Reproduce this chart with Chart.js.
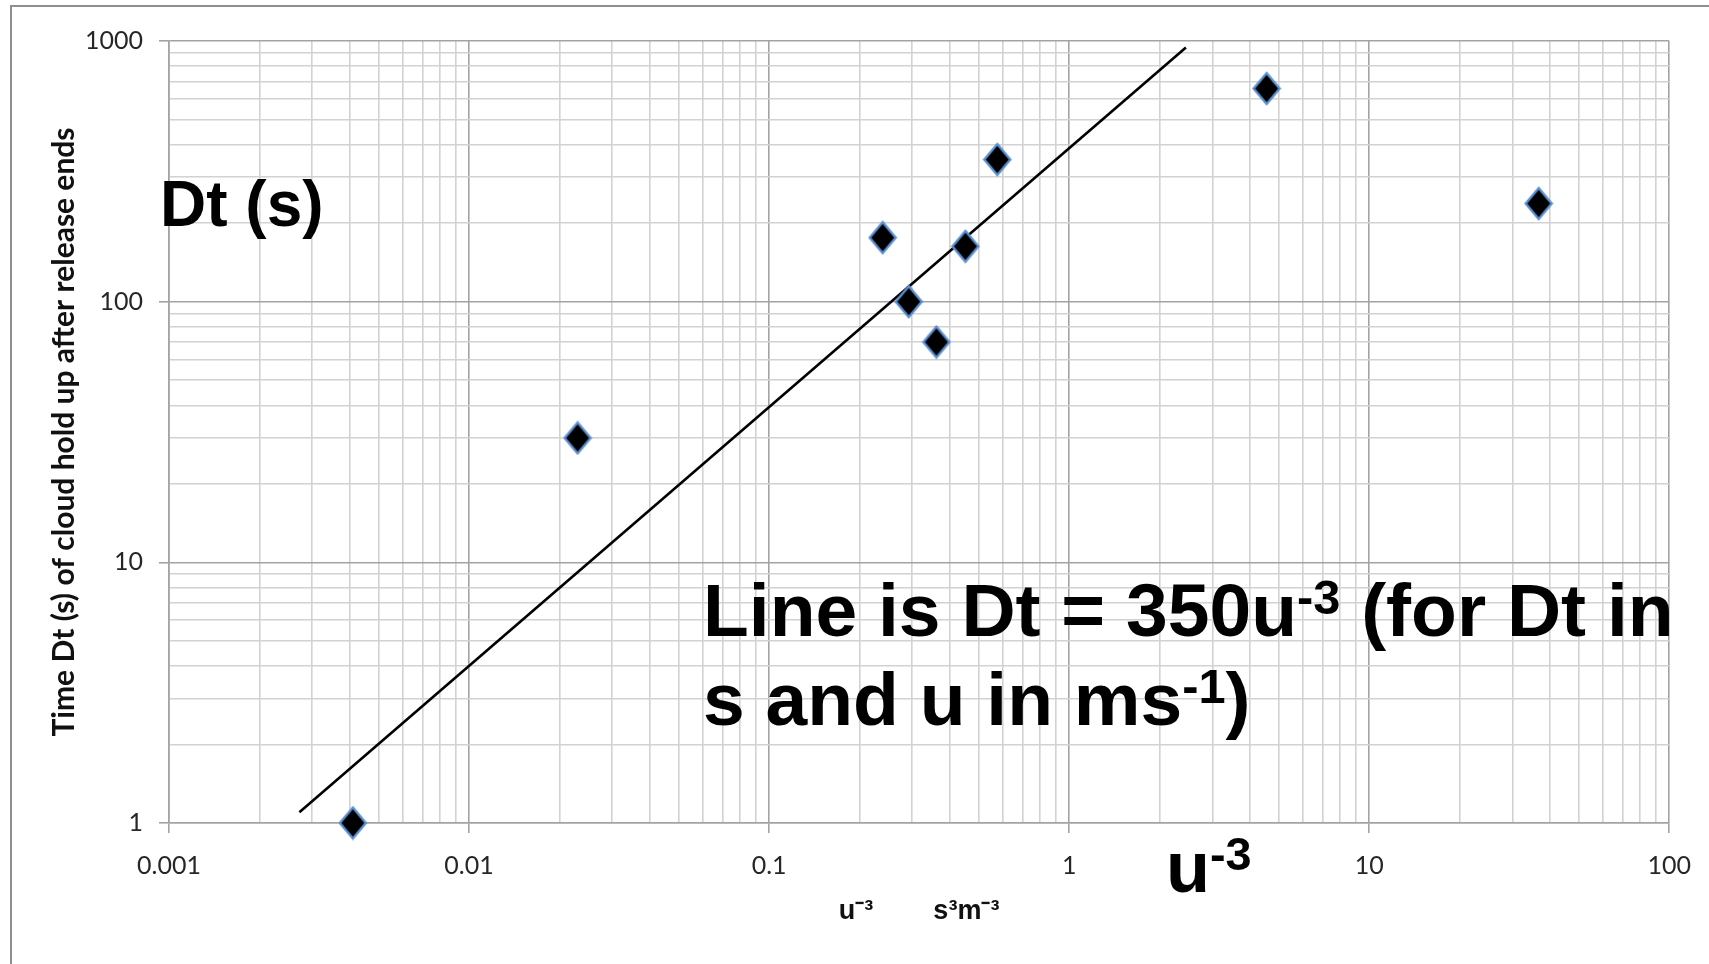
<!DOCTYPE html>
<html>
<head>
<meta charset="utf-8">
<title>Cloud hold up time</title>
<script src="https://cdn.jsdelivr.net/npm/chart.js@4/dist/chart.umd.min.js"></script>
<style>
  html, body { margin: 0; padding: 0; background: #fff; }
  canvas { display: block; }
</style>
</head>
<body>
<canvas id="holdUpChart" width="1709" height="964"></canvas>
<script>
// measured points, u^-3 (s3m-3) against Dt (s)
var uInv3 = [0.0041, 0.023, 0.239, 0.292, 0.361, 0.451, 0.576, 4.55, 36.7];
var holdUp = [1, 30, 176, 100, 70, 163, 351, 657, 238];

// the drawn line, its two ends
var lineU = [0.00272, 2.45];
var lineDt = [1.1, 944];

// decade tick labels
var xDecades = [0.001, 0.01, 0.1, 1, 10, 100];
var xTickLabels = ["0.001", "0.01", "0.1", "1", "10", "100"];
var yDecades = [1, 10, 100, 1000];
var yTickLabels = ["1", "10", "100", "1000"];

var MAJOR = "#a3a3a3";
var MINOR = "#d2d2d2";

function isMajor(v) {
	var l = Math.log10(v);
	return Math.abs(l - Math.round(l)) < 1e-6;
}

function decadeTicks(decades) {
	var out = [];
	for (var i = 0; i < decades.length; i++) {
		out.push({ value: decades[i] });
		if (i == decades.length - 1) break;
		for (var k = 2; k <= 9; k++) out.push({ value: decades[i] * k });
	}
	return out;
}

function labelFor(v, decades, labels) {
	if (!isMajor(v)) return "";
	for (var i = 0; i < decades.length; i++) {
		if (Math.abs(Math.log10(decades[i]) - Math.log10(v)) < 1e-6) return labels[i];
	}
	return "";
}

// diamond marker, a little taller than wide
function makeDiamond() {
	var c = document.createElement("canvas");
	c.width = 30; c.height = 35;
	var g = c.getContext("2d");
	g.beginPath();
	g.moveTo(15, 2); g.lineTo(28, 17.5); g.lineTo(15, 33); g.lineTo(2, 17.5);
	g.closePath();
	g.fillStyle = "#000";
	g.fill();
	g.lineWidth = 2.4;
	g.strokeStyle = "#5b8fd0";
	g.stroke();
	return c;
}

// text with superscripts: parts are [text, isSup]
function drawRich(ctx, x, y, parts, size) {
	var cx = x;
	for (var i = 0; i < parts.length; i++) {
		var sup = parts[i][1];
		var s = sup ? size * 0.65 : size;
		ctx.font = "bold " + s + "px 'Liberation Sans', Arial, sans-serif";
		ctx.fillText(parts[i][0], cx, sup ? y - size * 0.3 : y);
		cx += ctx.measureText(parts[i][0]).width;
	}
}

var notesPlugin = {
	id: "notes",
	beforeDraw: function (chart) {
		var ctx = chart.ctx;
		ctx.save();
		ctx.strokeStyle = "#8e8e8e";
		ctx.lineWidth = 2;
		ctx.beginPath();
		ctx.moveTo(11, 964);
		ctx.lineTo(11, 6);
		ctx.lineTo(1709, 6);
		ctx.stroke();
		ctx.restore();
	},
	afterDraw: function (chart) {
		var ctx = chart.ctx;
		ctx.save();
		ctx.fillStyle = "#000";
		ctx.textBaseline = "alphabetic";
		ctx.textAlign = "left";
		drawRich(ctx, 160, 226, [["Dt (s)", false]], 64);
		drawRich(ctx, 703, 636, [["Line is Dt = 350u", false], ["-3", true], [" (for Dt in", false]], 75);
		drawRich(ctx, 703, 725, [["s and u in ms", false], ["-1", true], [")", false]], 75);
		drawRich(ctx, 1166, 892, [["u", false], ["-3", true]], 72);
		ctx.restore();
	}
};

var ctx = document.getElementById("holdUpChart").getContext("2d");

var points = [];
for (var i = 0; i < uInv3.length; i++) points.push({ x: uInv3[i], y: holdUp[i] });
var linePts = [];
for (var j = 0; j < lineU.length; j++) linePts.push({ x: lineU[j], y: lineDt[j] });

function gridOpts() {
	return {
		color: function (c) { return c.tick && isMajor(c.tick.value) ? MAJOR : MINOR; },
		lineWidth: 1.6,
		tickLength: 10,
		tickColor: function (c) { return c.tick && isMajor(c.tick.value) ? MAJOR : "rgba(0,0,0,0)"; },
		tickWidth: 1.6
	};
}

new Chart(ctx, {
	type: "scatter",
	data: {
		datasets: [
			{
				label: "Dt",
				data: points,
				pointStyle: makeDiamond(),
				pointRadius: 15,
				showLine: false,
				clip: false
			},
			{
				label: "Line",
				data: linePts,
				showLine: true,
				borderColor: "#000",
				borderWidth: 2.6,
				pointRadius: 0
			}
		]
	},
	options: {
		responsive: false,
		animation: false,
		events: [],
		layout: { padding: { top: 41, right: 34, left: 2, bottom: 0 } },
		plugins: {
			legend: { display: false },
			tooltip: { enabled: false }
		},
		scales: {
			x: {
				type: "logarithmic",
				position: "bottom",
				min: 0.001,
				max: 100,
				afterBuildTicks: function (s) { s.ticks = decadeTicks(xDecades); },
				afterFit: function (s) { s.height = 141; },
				grid: gridOpts(),
				border: { display: true, color: MAJOR, width: 1.6 },
				ticks: {
					autoSkip: false,
					maxRotation: 0,
					padding: 18,
					color: "#262626",
					font: { family: "Lato", size: 25 },
					callback: function (v) { return labelFor(v, xDecades, xTickLabels); }
				},
				title: {
					display: true,
					text: "u\u207B\u00B3        s\u00B3m\u207B\u00B3",
					color: "#111",
					font: { family: "'Liberation Sans', Arial", size: 27, weight: "bold" },
					padding: { top: 0, bottom: 36 }
				}
			},
			y: {
				type: "logarithmic",
				min: 1,
				max: 1000,
				afterBuildTicks: function (s) { s.ticks = decadeTicks(yDecades); },
				afterFit: function (s) { s.width = 167; },
				grid: gridOpts(),
				border: { display: true, color: MAJOR, width: 1.6 },
				ticks: {
					autoSkip: false,
					padding: 16,
					color: "#262626",
					font: { family: "Lato", size: 25 },
					callback: function (v) { return labelFor(v, yDecades, yTickLabels); }
				},
				title: {
					display: true,
					text: "Time Dt (s) of cloud hold up after release ends",
					color: "#111",
					font: { family: "Lato", size: 30, weight: "bold" },
					padding: { top: 44, bottom: 0 }
				}
			}
		}
	},
	plugins: [notesPlugin]
});
</script>
</body>
</html>
